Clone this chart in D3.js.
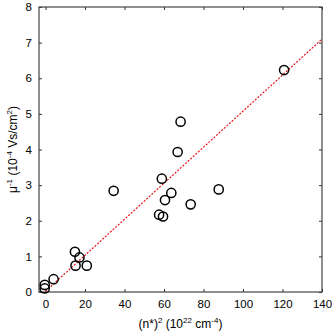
<!DOCTYPE html>
<html>
<head>
<meta charset="utf-8">
<script src="https://cdn.jsdelivr.net/npm/d3@7"></script>
<style>
  body { margin: 0; background: #fff; }
  text { font-family: "Liberation Sans", Arial, sans-serif; fill: #000; }
</style>
</head>
<body>
<svg id="chart"></svg>
<script>
// data
const nSq = [-0.4, -0.4, 4.1, 14.9, 15.2, 17.2, 20.9, 34.5, 57.5, 59.5, 58.9, 60.5, 63.7, 66.9, 68.4, 73.5, 87.7, 120.8];
const invMu = [0.2, 0.1, 0.36, 1.13, 0.74, 0.97, 0.74, 2.84, 2.17, 2.12, 3.18, 2.58, 2.78, 3.93, 4.78, 2.46, 2.88, 6.23];
const fitX = [0, 140];
const fitY = [0.02, 7.1];
const xTicks = [0, 20, 40, 60, 80, 100, 120, 140];
const yTicks = [0, 1, 2, 3, 4, 5, 6, 7, 8];

const W = 332, H = 333;
const margin = {top: 7, right: 10, bottom: 41, left: 39};
const width = W - margin.left - margin.right;
const height = H - margin.top - margin.bottom;

const svg = d3.select('#chart').attr('width', W).attr('height', H);
const chart = svg.append('g').attr('transform', `translate(${margin.left},${margin.top})`);

const x = d3.scaleLinear().domain([-3.3, 140]).range([0, width]);
const y = d3.scaleLinear().domain([0, 8]).range([height, 0]);

// axes with inward ticks on all sides
const axisStyle = g => {
  g.select('.domain').remove();
  g.selectAll('.tick line').attr('stroke', '#333');
  g.selectAll('.tick text').style('font-size', '11.5px').attr('fill', '#000');
};
chart.append('g').attr('transform', `translate(0,${height})`)
  .call(d3.axisBottom(x).tickValues(xTicks).tickSizeInner(-3).tickSizeOuter(0).tickPadding(8))
  .call(axisStyle);
chart.append('g')
  .call(d3.axisTop(x).tickValues(xTicks).tickSizeInner(-3).tickSizeOuter(0).tickFormat(''))
  .call(axisStyle);
chart.append('g')
  .call(d3.axisLeft(y).tickValues(yTicks).tickSizeInner(-3).tickSizeOuter(0).tickPadding(7))
  .call(axisStyle);
chart.append('g').attr('transform', `translate(${width},0)`)
  .call(d3.axisRight(y).tickValues(yTicks).tickSizeInner(-3).tickSizeOuter(0).tickFormat(''))
  .call(axisStyle);

chart.append('rect')
  .attr('width', width).attr('height', height)
  .attr('fill', 'none').attr('stroke', '#444').attr('stroke-width', 1.2);

// fit line
const fit = fitX.map((d, i) => ({x: d, y: fitY[i]}));
chart.append('path')
  .datum(fit)
  .attr('fill', 'none')
  .attr('stroke', '#e8141c')
  .attr('stroke-width', 1.2)
  .attr('stroke-dasharray', '2,1.5')
  .attr('d', d3.line().x(d => x(d.x)).y(d => y(d.y)));

// points
chart.selectAll('circle.pt')
  .data(nSq.map((d, i) => ({x: d, y: invMu[i]})))
  .join('circle')
  .attr('class', 'pt')
  .attr('cx', d => x(d.x))
  .attr('cy', d => y(d.y))
  .attr('r', 4.6)
  .attr('fill', 'none')
  .attr('stroke', '#000')
  .attr('stroke-width', 1.5);

// axis labels
const xl = svg.append('text')
  .attr('x', margin.left + width / 2)
  .attr('y', 328)
  .attr('text-anchor', 'middle')
  .style('font-size', '12px');
xl.append('tspan').text('(n*)');
xl.append('tspan').attr('dy', -5).style('font-size', '8px').text('2');
xl.append('tspan').attr('dy', 5).text(' (10');
xl.append('tspan').attr('dy', -5).style('font-size', '8px').text('22');
xl.append('tspan').attr('dy', 5).text(' cm');
xl.append('tspan').attr('dy', -5).style('font-size', '8px').text('-4');
xl.append('tspan').attr('dy', 5).text(')');

const yl = svg.append('text')
  .attr('transform', `translate(17,${margin.top + height / 2}) rotate(-90)`)
  .attr('text-anchor', 'middle')
  .style('font-size', '12px');
yl.append('tspan').text('μ');
yl.append('tspan').attr('dy', -5).style('font-size', '8px').text('-1');
yl.append('tspan').attr('dy', 5).text(' (10');
yl.append('tspan').attr('dy', -5).style('font-size', '8px').text('-4');
yl.append('tspan').attr('dy', 5).text(' Vs/cm');
yl.append('tspan').attr('dy', -5).style('font-size', '8px').text('2');
yl.append('tspan').attr('dy', 5).text(')');
</script>
</body>
</html>
